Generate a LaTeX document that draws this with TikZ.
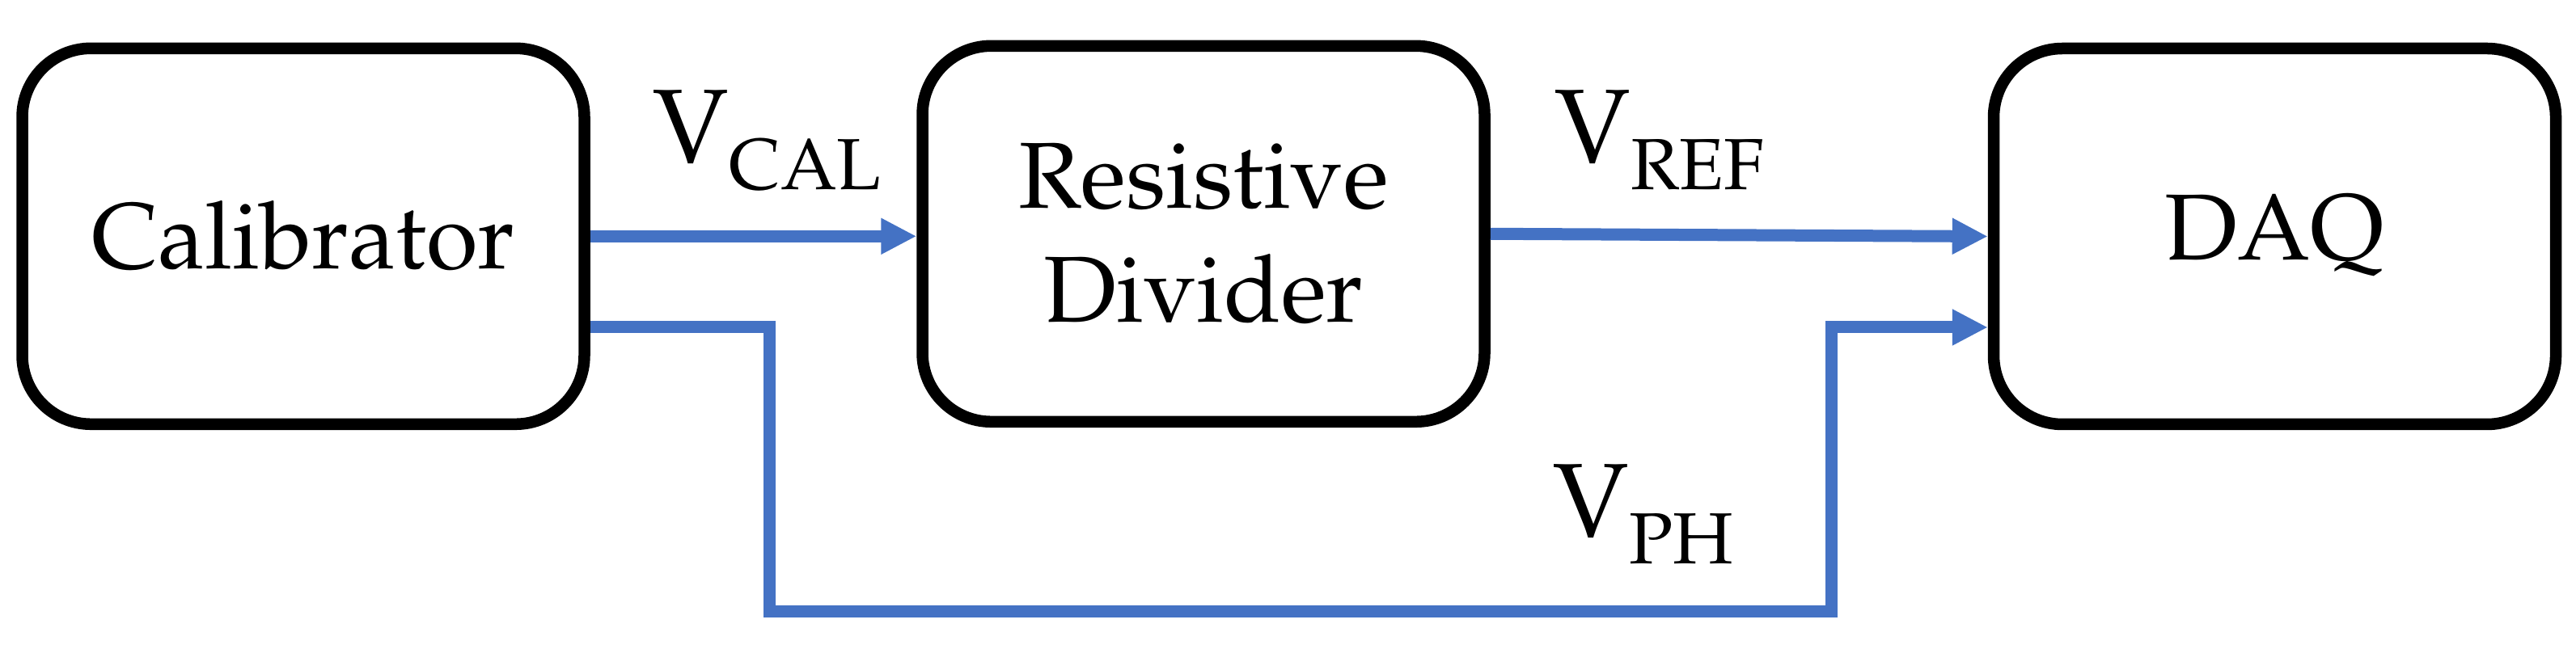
\documentclass[tikz,border=0pt]{standalone}
\usepackage[T1]{fontenc}
\usepackage{mathpazo}
\usepackage{tikz}
\usetikzlibrary{arrows.meta}
\definecolor{wireblue}{HTML}{4472C4}
\tikzstyle{block}=[draw=black, line width=0.145cm, rounded corners=0.85cm, minimum width=6.95cm, minimum height=4.65cm, inner sep=0, align=center, font=\fontsize{33}{40}\selectfont]
\tikzstyle{wire}=[draw=wireblue, line width=0.15cm, -{Triangle[length=4.4mm, width=4.2mm]}]
\tikzstyle{lbl}=[inner sep=0, anchor=base west, font=\fontsize{37}{44}\selectfont]
\newcommand{\volt}[1]{V\raisebox{-0.25em}{\fontsize{25.5}{30}\selectfont #1}}

\begin{document}
\begin{tikzpicture}
				\useasboundingbox (0,0) rectangle (31.85,8.03);
				\node[block] (cal) at (3.75,5.107) {Calibrator};
				\node[block] (div) at (14.88,5.137) {Resistive\\Divider};
				\node[block] (daq) at (28.125,5.105) {DAQ};
				\node[lbl] (vcal) at (8.07,6.01) {\volt{CAL}};
				\node[lbl] (vref) at (19.22,6.01) {\volt{REF}};
				\node[lbl] (vph) at (19.20,1.38) {\volt{PH}};
				\coordinate (phlow) at (9.515,0.46);
				\coordinate (phup) at ([xshift=-1.93cm, yshift=-1.125cm]daq.west);

				\draw[wire] (cal.east) -- (cal.east -| div.west);
				\draw[wire] (div.east) -- (daq.west);
				\draw[wire] ([yshift=-1.12cm]cal.east) -| (phlow) -| (phup) -- ([yshift=-1.125cm]daq.west);
			\end{tikzpicture}
\end{document}
